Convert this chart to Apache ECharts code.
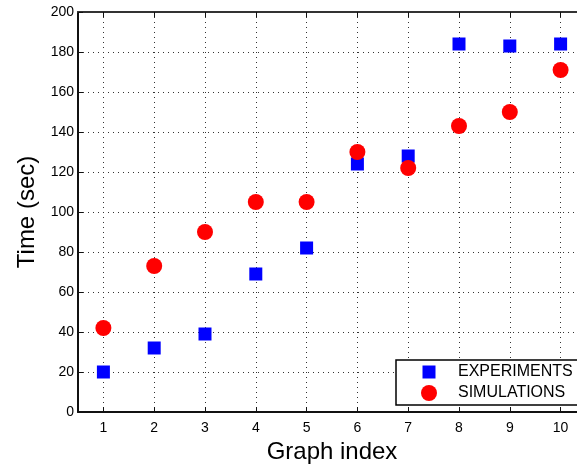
<!DOCTYPE html>
<html>
<head>
<meta charset="utf-8">
<script src="https://cdn.jsdelivr.net/npm/echarts@6/dist/echarts.min.js"></script>
<style>
  html, body { margin: 0; padding: 0; background: #fff; }
  #main { width: 577px; height: 465px; }
</style>
</head>
<body>
<div id="main"></div>
<script>
// graph index on x, time in seconds on y
var graphIndex = [1, 2, 3, 4, 5, 6, 7, 8, 9, 10];
var experiments = [20, 32, 39, 69, 82, 124, 128, 184, 183, 184];
var simulations = [42, 73, 90, 105, 105, 130, 122, 143, 150, 171];
var yTicks = [0, 20, 40, 60, 80, 100, 120, 140, 160, 180, 200];

var font = 'Liberation Sans, Arial, Helvetica, sans-serif';

function pairs(ys) {
  return graphIndex.map(function (x, i) { return [x, ys[i]]; });
}

var myChart = echarts.init(document.getElementById('main'));

var option = {
  backgroundColor: '#fff',
  animation: false,
  grid: { left: 78, top: 12, width: 508, height: 400, outerBoundsMode: 'none', containLabel: false },
  xAxis: [{
    type: 'value',
    min: 0.5,
    max: 10.5,
    name: 'Graph index',
    nameLocation: 'middle',
    nameGap: 19,
    nameTextStyle: { fontFamily: font, fontSize: 24, color: '#000' },
    axisLine: { lineStyle: { color: '#111', width: 2 } },
    axisTick: { inside: true, length: 5, customValues: graphIndex, lineStyle: { color: '#111' } },
    axisLabel: { customValues: graphIndex, fontFamily: font, fontSize: 14, color: '#000', margin: 9 },
    splitLine: { show: true, lineStyle: { color: '#333', type: [1, 4], width: 1 } }
  }, {
    type: 'value',
    position: 'top',
    min: 0.5,
    max: 10.5,
    axisLine: { show: true, lineStyle: { color: '#333', width: 2 } },
    axisTick: { inside: true, length: 5, customValues: graphIndex, lineStyle: { color: '#111' } },
    axisLabel: { show: false },
    splitLine: { show: false }
  }],
  yAxis: {
    type: 'value',
    min: 0,
    max: 200,
    interval: 20,
    name: 'Time (sec)',
    nameLocation: 'middle',
    nameGap: 39,
    nameTextStyle: { fontFamily: font, fontSize: 24, color: '#000' },
    axisLine: { show: true, lineStyle: { color: '#111', width: 2 } },
    axisTick: { show: true, inside: true, length: 5, lineStyle: { color: '#111' } },
    axisLabel: {
      fontFamily: font, fontSize: 14, color: '#000', margin: 4,
      formatter: function (v) { return yTicks.indexOf(v) >= 0 ? String(v) : ''; }
    },
    splitLine: { show: true, lineStyle: { color: '#333', type: [1, 4], width: 1 } }
  },
  legend: {
    orient: 'vertical',
    left: 396,
    top: 360,
    padding: [4, 12, 4, 25],
    itemGap: 5,
    itemWidth: 16,
    itemHeight: 16,
    backgroundColor: '#fff',
    borderColor: '#000',
    borderWidth: 1.5,
    borderRadius: 0,
    textStyle: { fontFamily: font, fontSize: 16, color: '#000', padding: [0, 0, 0, 16] },
    data: [
      { name: 'EXPERIMENTS', icon: 'path://M0,0M16,16M1.5,1.5L14.5,1.5L14.5,14.5L1.5,14.5Z' },
      { name: 'SIMULATIONS', icon: 'circle' }
    ]
  },
  series: [{
    name: 'EXPERIMENTS',
    type: 'scatter',
    symbol: 'rect',
    symbolSize: 13,
    itemStyle: { color: '#0000ff', opacity: 1 },
    data: pairs(experiments)
  }, {
    name: 'SIMULATIONS',
    type: 'scatter',
    symbol: 'circle',
    symbolSize: 16,
    itemStyle: { color: '#ff0000', opacity: 1 },
    data: pairs(simulations)
  }]
};

myChart.setOption(option);
</script>
</body>
</html>
